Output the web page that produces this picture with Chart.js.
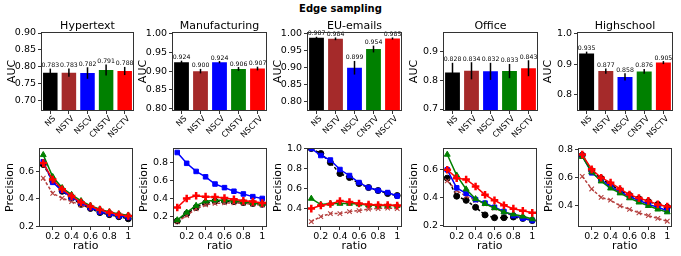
<!DOCTYPE html>
<html><head><meta charset="utf-8">
<script src="https://cdn.jsdelivr.net/npm/chart.js@4/dist/chart.umd.min.js"></script>
<style>
html,body{margin:0;padding:0;background:#fff;width:681px;height:256px;overflow:hidden;position:relative;}
canvas{position:absolute;}
#title{position:absolute;left:0;width:681px;top:3px;text-align:center;font:bold 10px "DejaVu Sans";color:#000;}
</style></head><body>
<div id="title">Edge sampling</div>
<script>
// ---------- data ----------
const methods = ['NS','NSTV','NSCV','CNSTV','NSCTV'];
const ratios = [0.1,0.2,0.3,0.4,0.5,0.6,0.7,0.8,0.9,1.0];
const ratioTickLabels = ['0.2','0.4','0.6','0.8','1'];

const hypertextAuc = [0.783,0.783,0.782,0.791,0.788];
const hypertextErr = [0.012,0.012,0.017,0.016,0.012];
const hypertextAucTicks = ['0.70','0.75','0.80','0.85','0.90'];
const manufacturingAuc = [0.924,0.900,0.924,0.906,0.907];
const manufacturingErr = [0.004,0.006,0.003,0.005,0.005];
const manufacturingAucTicks = ['0.80','0.85','0.90','0.95','1.00'];
const euAuc = [0.987,0.984,0.899,0.954,0.985];
const euErr = [0.003,0.004,0.02,0.01,0.003];
const euAucTicks = ['0.80','0.85','0.90','0.95','1.00'];
const officeAuc = [0.828,0.834,0.832,0.833,0.843];
const officeErr = [0.034,0.03,0.03,0.025,0.028];
const officeAucTicks = ['0.7','0.8','0.9'];
const highschoolAuc = [0.935,0.877,0.858,0.876,0.905];
const highschoolErr = [0.006,0.009,0.012,0.008,0.005];
const highschoolAucTicks = ['0.8','0.9','1.0'];

// precision vs ratio
const hypertextNS    = [0.65,0.53,0.455,0.405,0.36,0.33,0.30,0.285,0.27,0.255];
const hypertextNSTV  = [0.55,0.44,0.405,0.38,0.355,0.335,0.315,0.30,0.285,0.275];
const hypertextNSCV  = [0.67,0.52,0.46,0.41,0.37,0.335,0.305,0.29,0.275,0.265];
const hypertextCNSTV = [0.72,0.56,0.48,0.43,0.385,0.35,0.325,0.305,0.29,0.28];
const hypertextNSCTV = [0.66,0.54,0.47,0.42,0.375,0.345,0.32,0.30,0.285,0.275];
const hypertextPrecTicks = ['0.2','0.4','0.6'];

const manufacturingNS    = [0.15,0.23,0.30,0.35,0.37,0.37,0.365,0.355,0.345,0.335];
const manufacturingNSTV  = [0.14,0.21,0.285,0.33,0.345,0.35,0.35,0.345,0.335,0.325];
const manufacturingNSCV  = [0.91,0.79,0.70,0.64,0.56,0.52,0.48,0.45,0.42,0.40];
const manufacturingCNSTV = [0.16,0.245,0.32,0.37,0.38,0.38,0.375,0.365,0.35,0.34];
const manufacturingNSCTV = [0.30,0.40,0.43,0.42,0.415,0.405,0.39,0.375,0.365,0.35];
const manufacturingPrecTicks = ['0.2','0.4','0.6','0.8'];

const euNS    = [1.0,0.95,0.86,0.75,0.71,0.65,0.61,0.58,0.55,0.53];
const euNSTV  = [0.27,0.32,0.35,0.35,0.37,0.38,0.395,0.40,0.405,0.40];
const euNSCV  = [1.0,0.93,0.885,0.79,0.73,0.66,0.61,0.58,0.56,0.525];
const euCNSTV = [0.50,0.44,0.45,0.45,0.45,0.445,0.435,0.43,0.43,0.43];
const euNSCTV = [0.40,0.43,0.445,0.475,0.465,0.45,0.44,0.435,0.435,0.43];
const euPrecTicks = ['0.4','0.6','0.8','1.0'];

const officeNS    = [0.54,0.41,0.38,0.33,0.275,0.255,0.255,0.26,0.25,0.235];
const officeNSTV  = [0.52,0.45,0.41,0.38,0.355,0.325,0.295,0.27,0.255,0.24];
const officeNSCV  = [0.60,0.47,0.43,0.385,0.36,0.33,0.30,0.27,0.25,0.235];
const officeCNSTV = [0.71,0.56,0.46,0.39,0.355,0.325,0.295,0.28,0.265,0.245];
const officeNSCTV = [0.60,0.54,0.53,0.48,0.42,0.38,0.345,0.32,0.305,0.29];
const officePrecTicks = ['0.2','0.4','0.6'];

const highschoolNS    = [0.76,0.65,0.595,0.55,0.51,0.475,0.45,0.43,0.41,0.39];
const highschoolNSTV  = [0.61,0.52,0.46,0.44,0.40,0.375,0.35,0.33,0.31,0.29];
const highschoolNSCV  = [0.755,0.635,0.585,0.535,0.50,0.465,0.44,0.41,0.39,0.365];
const highschoolCNSTV = [0.75,0.64,0.575,0.525,0.49,0.455,0.425,0.40,0.375,0.355];
const highschoolNSCTV = [0.765,0.66,0.60,0.565,0.52,0.48,0.455,0.435,0.41,0.395];
const highschoolPrecTicks = ['0.4','0.6','0.8'];

// ---------- styles ----------
const colors = ['#000000','#a52a2a','#0000ff','#008000','#ff0000'];
const FONT = '"DejaVu Sans"';
Chart.defaults.color = '#000';
Chart.defaults.font.family = FONT;
Chart.defaults.animation = false;

const framePlugin = {
  id: 'frame',
  afterDraw(chart) {
    const {ctx, chartArea: a} = chart;
    ctx.save();
    ctx.strokeStyle = '#333';
    ctx.lineWidth = 1;
    ctx.strokeRect(Math.round(a.left) + 0.5, Math.round(a.top) + 0.5,
                   Math.round(a.right - a.left) - 1, Math.round(a.bottom - a.top) - 1);
    const t = chart.options.plugins.frame && chart.options.plugins.frame.title;
    if (t) {
      ctx.fillStyle = '#000';
      ctx.font = '11px ' + FONT;
      ctx.textAlign = 'center';
      ctx.textBaseline = 'alphabetic';
      ctx.fillText(t, (a.left + a.right) / 2, a.top - 3);
    }
    ctx.restore();
  }
};

const errPlugin = {
  id: 'errbars',
  afterDatasetsDraw(chart) {
    const ds = chart.data.datasets[0];
    if (!ds.errors) return;
    const meta = chart.getDatasetMeta(0);
    const ys = chart.scales.y;
    const ctx = chart.ctx;
    ctx.save();
    meta.data.forEach((bar, i) => {
      const v = ds.data[i], e = ds.errors[i];
      const y1 = ys.getPixelForValue(v - e), y2 = ys.getPixelForValue(v + e);
      ctx.strokeStyle = '#000';
      ctx.lineWidth = 1.5;
      ctx.beginPath(); ctx.moveTo(bar.x, y1); ctx.lineTo(bar.x, y2); ctx.stroke();
      ctx.fillStyle = '#000';
      ctx.font = '6.2px ' + FONT;
      ctx.textAlign = 'center';
      ctx.textBaseline = 'bottom';
      ctx.fillText(v.toFixed(3), bar.x, y2);
    });
    ctx.restore();
  }
};

function mkCanvas(left, top, w, h) {
  const c = document.createElement('canvas');
  c.width = w; c.height = h;
  c.style.left = left + 'px'; c.style.top = top + 'px';
  c.style.width = w + 'px'; c.style.height = h + 'px';
  document.body.appendChild(c);
  return c;
}

function yScale(min, max, labels, title) {
  return {
    type: 'linear', min, max,
    afterBuildTicks: s => { s.ticks = labels.map(l => ({value: parseFloat(l)})); },
    afterFit: s => { s.width = 40; },
    ticks: {
      font: {size: 9.5}, padding: 2, color: '#000',
      callback: v => { const l = labels.find(x => Math.abs(parseFloat(x) - v) < 1e-9); return l === undefined ? '' : l; }
    },
    grid: {display: true, drawOnChartArea: false, drawTicks: true, tickLength: 3, color: '#000', tickWidth: 0.8},
    border: {display: false},
    title: {display: true, text: title, font: {size: 11}, padding: {top: 5, bottom: 0}, color: '#000'}
  };
}

function makeBar(box, title, values, errs, ymin, ymax, tickLabels) {
  const [L, T, R, B] = box;
  const c = mkCanvas(L - 40, T - 20, R - L + 46, B - T + 20 + 34);
  new Chart(c, {
    type: 'bar',
    data: {labels: methods, datasets: [{data: values, errors: errs, backgroundColor: colors,
      borderWidth: 0, barPercentage: 0.78, categoryPercentage: 1}]},
    options: {
      responsive: false, devicePixelRatio: 1,
      layout: {padding: {top: 20, right: 6, left: 0, bottom: 0}},
      plugins: {legend: {display: false}, tooltip: {enabled: false}, frame: {title}},
      scales: {
        x: {
          afterFit: s => { s.height = 34; },
          ticks: {font: {size: 8}, minRotation: 45, maxRotation: 45, autoSkip: false, padding: 0,
            labelOffset: 4, color: '#000'},
          grid: {display: true, drawOnChartArea: false, drawTicks: true, tickLength: 3, offset: false, color: '#000', tickWidth: 0.8},
          border: {display: false}
        },
        y: yScale(ymin, ymax, tickLabels, 'AUC')
      }
    },
    plugins: [framePlugin, errPlugin]
  });
}

const seriesStyle = [
  {label: 'NS',    color: colors[0], pointStyle: 'circle',   dash: [3, 2], radius: 3,   order: 5},
  {label: 'NSTV',  color: '#b5403f', pointStyle: 'crossRot', dash: [3, 2], radius: 3.2, order: 4},
  {label: 'NSCV',  color: colors[2], pointStyle: 'rect',     dash: [],     radius: 3.2, order: 3},
  {label: 'CNSTV', color: colors[3], pointStyle: 'triangle', dash: [],     radius: 3.4, order: 2},
  {label: 'NSCTV', color: colors[4], pointStyle: 'cross',    dash: [],     radius: 3.8, order: 1}
];

function makeLine(box, series, ymin, ymax, tickLabels) {
  const [L, T, R, B] = box;
  const c = mkCanvas(L - 40, T - 8, R - L + 46, B - T + 8 + 28);
  new Chart(c, {
    type: 'line',
    data: {
      datasets: series.map((vals, i) => {
        const st = seriesStyle[i];
        return {
          label: st.label, data: ratios.map((r, k) => ({x: r, y: vals[k]})),
          borderColor: st.color, backgroundColor: st.color,
          pointBackgroundColor: st.color, pointBorderColor: st.color,
          borderWidth: 1.5, borderDash: st.dash,
          pointStyle: st.pointStyle, pointRadius: st.radius,
          pointBorderWidth: st.pointStyle === 'cross' ? 2.5 : (st.pointStyle === 'crossRot' ? 1.1 : 1),
          order: st.order, fill: false, tension: 0
        };
      })
    },
    options: {
      responsive: false, devicePixelRatio: 1,
      layout: {padding: {top: 8, right: 6, left: 0, bottom: 0}},
      plugins: {legend: {display: false}, tooltip: {enabled: false}, frame: {}},
      scales: {
        x: {
          type: 'linear', min: 0.055, max: 1.045,
          afterBuildTicks: s => { s.ticks = ratioTickLabels.map(l => ({value: parseFloat(l)})); },
          afterFit: s => { s.height = 28; },
          ticks: {font: {size: 9.5}, padding: 1, maxRotation: 0, color: '#000',
            callback: v => { const l = ratioTickLabels.find(x => Math.abs(parseFloat(x) - v) < 1e-9); return l === undefined ? '' : l; }},
          grid: {display: true, drawOnChartArea: false, drawTicks: true, tickLength: 3, color: '#000', tickWidth: 0.8},
          border: {display: false},
          title: {display: true, text: 'ratio', font: {size: 11}, padding: {top: 0, bottom: 2}, color: '#000'}
        },
        y: yScale(ymin, ymax, tickLabels, 'Precision')
      }
    },
    plugins: [framePlugin]
  });
}

// ---------- layout ----------
makeBar([41, 32, 134, 111], 'Hypertext', hypertextAuc, hypertextErr, 0.67, 0.903, hypertextAucTicks);
makeBar([172, 32, 267, 111], 'Manufacturing', manufacturingAuc, manufacturingErr, 0.793, 1.005, manufacturingAucTicks);
makeBar([307, 32, 402, 111], 'EU-emails', euAuc, euErr, 0.772, 1.004, euAucTicks);
makeBar([443, 32, 538, 111], 'Office', officeAuc, officeErr, 0.693, 0.97, officeAucTicks);
makeBar([577, 32, 673, 111], 'Highschool', highschoolAuc, highschoolErr, 0.746, 1.0055, highschoolAucTicks);

makeLine([39, 148, 133, 227], [hypertextNS, hypertextNSTV, hypertextNSCV, hypertextCNSTV, hypertextNSCTV], 0.195, 0.77, hypertextPrecTicks);
makeLine([173, 148, 267, 227], [manufacturingNS, manufacturingNSTV, manufacturingNSCV, manufacturingCNSTV, manufacturingNSCTV], 0.083, 0.96, manufacturingPrecTicks);
makeLine([307, 148, 402, 227], [euNS, euNSTV, euNSCV, euCNSTV, euNSCTV], 0.216, 1.005, euPrecTicks);
makeLine([443, 148, 537, 227], [officeNS, officeNSTV, officeNSCV, officeCNSTV, officeNSCTV], 0.188, 0.757, officePrecTicks);
makeLine([578, 148, 672, 227], [highschoolNS, highschoolNSTV, highschoolNSCV, highschoolCNSTV, highschoolNSCTV], 0.249, 0.812, highschoolPrecTicks);
</script>
</body></html>
